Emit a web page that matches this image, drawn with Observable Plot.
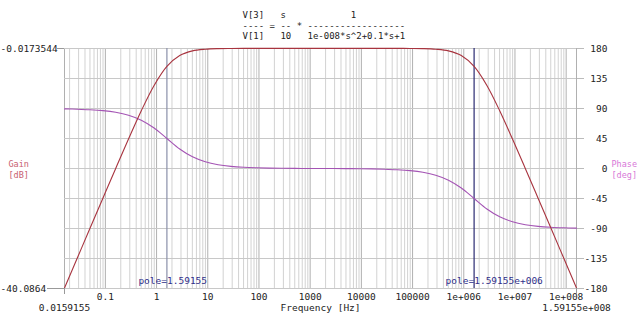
<!DOCTYPE html>
<html><head><meta charset="utf-8">
<script src="https://cdn.jsdelivr.net/npm/d3@7"></script>
<script src="https://cdn.jsdelivr.net/npm/@observablehq/plot@0.6"></script>
<style>
body{margin:0;background:#fff;}
svg text{white-space:pre;}
</style></head><body><div id="chart"></div>
<script>
// ---- data ----
const freqHz = [
  0.0159155, 0.0283019, 0.0503292, 0.0894994,
  0.159155, 0.283019, 0.503292, 0.894994,
  1.59155, 2.83019, 5.03292, 8.94994,
  15.9155, 28.3019, 50.3292, 89.4994,
  159.155, 283.019, 503.292, 894.994,
  1591.55, 2830.19, 5032.92, 8949.94,
  15915.5, 28301.9, 50329.2, 89499.4,
  159155, 283019, 503292, 894994,
  1591550, 2830190, 5032920, 8949940,
  15915500, 28301900, 50329200, 89499400,
  159155000
];
const gainDb = [
  -40.00, -35.00, -30.00, -25.01, -20.04, -15.14, -10.41, -6.19,
  -3.01, -1.19, -0.41, -0.14, -0.04, -0.01, 0.00, 0.00,
  0.00, 0.00, 0.00, 0.00, 0.00, 0.00, 0.00, 0.00,
  0.00, 0.00, 0.00, -0.01, -0.04, -0.14, -0.41, -1.19,
  -3.01, -6.19, -10.41, -15.14, -20.04, -25.01, -30.00, -35.00,
  -40.00
];
const phaseDeg = [
  89.43, 88.98, 88.19, 86.78, 84.29, 79.92, 72.45, 60.64,
  45.00, 29.36, 17.55, 10.08, 5.71, 3.22, 1.81, 1.02,
  0.57, 0.31, 0.16, 0.07, 0.00, -0.07, -0.16, -0.31,
  -0.57, -1.02, -1.81, -3.22, -5.71, -10.08, -17.55, -29.36,
  -45.00, -60.64, -72.45, -79.92, -84.29, -86.78, -88.19, -88.98,
  -89.43
];
const titleLines = [
  "V[3]   s            1",
  "---- = -- * ------------------",
  "V[1]   10   1e-008*s^2+0.1*s+1"
];
const freqDomain = [0.0159155, 1.59155e8];
const freqEndLabels = ["0.0159155", "1.59155e+008"];
const decadeTicks = [0.1, 1, 10, 100, 1000, 10000, 100000, 1e6, 1e7, 1e8];
const decadeLabels = ["0.1", "1", "10", "100", "1000", "10000", "100000", "1e+006", "1e+007", "1e+008"];
const minorMultipliers = [2, 3, 4, 5, 6, 7, 8, 9];
const phaseTicks = [-180, -135, -90, -45, 0, 45, 90, 135, 180];
const gainRange = [-40.0864, -0.0173544];
const gainRangeLabels = ["-40.0864", "-0.0173544"];
const poles = [1.59155, 1.59155e6];
const poleLabels = ["pole=1.59155", "pole=1.59155e+006"];
const xLabel = "Frequency [Hz]";
const gainLabel = "Gain\n[dB]";
const phaseLabel = "Phase\n[deg]";

// ---- helpers ----
const gainToY = g => -180 + (g - gainRange[0]) / (gainRange[1] - gainRange[0]) * 360;
const gainPts = freqHz.map((f, i) => ({f, y: gainToY(gainDb[i])}));
const phasePts = freqHz.map((f, i) => ({f, y: phaseDeg[i]}));
const minorGrid = [];
for (let e = -2; e <= 8; e++) for (const m of minorMultipliers) {
  const v = m * Math.pow(10, e);
  if (v > freqDomain[0] && v < freqDomain[1]) minorGrid.push(v);
}
const titleOffsets = [-37, -26.3, -15.6];

const chart = Plot.plot({
  width: 640, height: 320,
  marginLeft: 64, marginRight: 64, marginTop: 48, marginBottom: 32,
  style: {fontFamily: "'DejaVu Sans Mono', monospace", fontSize: "9.5px", background: "#fff", color: "#222"},
  x: {type: "log", domain: freqDomain, label: null, axis: null},
  y: {domain: [-180, 180], label: null, axis: null},
  marks: [
    Plot.ruleX(minorGrid, {stroke: "#d2d2d2"}),
    Plot.ruleX(decadeTicks, {stroke: "#b0b0b0"}),
    Plot.ruleX(freqDomain, {stroke: "#b0b0b0"}),
    Plot.ruleY(phaseTicks, {stroke: "#c8c8c8"}),
    Plot.ruleX([poles[0]], {stroke: "#8a90aa", strokeWidth: 1.2}),
    Plot.ruleX([poles[1]], {stroke: "#2a2a72", strokeWidth: 1.2}),
    Plot.line(phasePts, {x: "f", y: "y", stroke: "#a454b4", strokeWidth: 1.1, curve: "catmull-rom"}),
    Plot.line(gainPts, {x: "f", y: "y", stroke: "#a8343f", strokeWidth: 1.1, curve: "catmull-rom"}),
    // bottom axis
    Plot.axisX(decadeTicks, {anchor: "bottom", tickSize: 0, tickPadding: 5, label: null,
      tickFormat: d => decadeLabels[decadeTicks.indexOf(d)]}),
    Plot.axisX(freqDomain, {anchor: "bottom", tickSize: 6, label: null, tickFormat: () => "", stroke: "#999"}),
    Plot.text(freqDomain, {x: d => d, text: (d, i) => freqEndLabels[i], frameAnchor: "bottom", dy: 22}),
    Plot.text([xLabel], {text: d => d, frameAnchor: "bottom", dy: 22}),
    // left (gain) axis
    Plot.axisY([180], {anchor: "left", tickSize: 7, label: null, tickFormat: () => "", stroke: "#999"}),
    Plot.axisY([-180], {anchor: "left", tickSize: 17, label: null, tickFormat: () => "", stroke: "#999"}),
    Plot.text(gainRange, {y: d => gainToY(d), text: (d, i) => gainRangeLabels[i], frameAnchor: "left", textAnchor: "start", dx: -64}),
    Plot.text([gainLabel], {text: d => d, frameAnchor: "left", textAnchor: "start", dx: -56, fill: "#c86070", fontSize: 8.5, lineHeight: 1.3}),
    // right (phase) axis
    Plot.axisY(phaseTicks, {anchor: "right", tickSize: 7, tickPadding: 24, textAnchor: "end", label: null,
      tickFormat: d => String(d), stroke: "#bbb"}),
    Plot.text([phaseLabel], {text: d => d, frameAnchor: "right", textAnchor: "start", dx: 35, fill: "#d878d8", fontSize: 8.5, lineHeight: 1.3}),
    // pole labels
    Plot.text(poles, {x: d => d, text: (d, i) => poleLabels[i], frameAnchor: "bottom", textAnchor: "start", dx: -28.5, dy: -5, fill: "#30308a"}),
    // title, one line per mark
    ...titleLines.map((t, i) => Plot.text([t], {text: d => d, frameAnchor: "top-left", textAnchor: "start", dx: 178, dy: titleOffsets[i], fontSize: 9, fill: "#222"}))
  ]
});
document.getElementById("chart").appendChild(chart);
</script>
</body></html>
